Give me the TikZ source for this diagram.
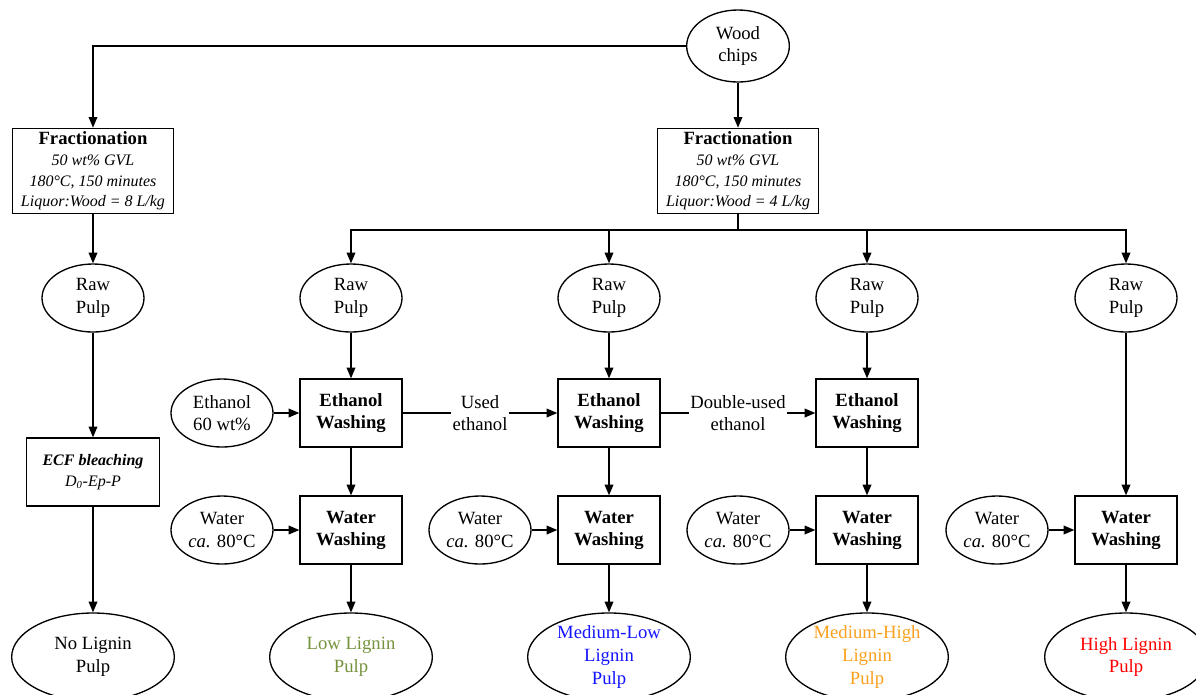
\documentclass[tikz,border=0pt]{standalone}
\usepackage{fontspec}
\setmainfont{Liberation Serif}
\usetikzlibrary{arrows.meta,positioning,shapes.geometric}

\definecolor{lowlig}{RGB}{118,146,60}
\definecolor{medlow}{RGB}{20,20,255}
\definecolor{medhigh}{RGB}{250,160,30}
\definecolor{highlig}{RGB}{255,0,0}

\tikzset{
  every node/.style={font=\fontsize{14}{17}\selectfont},
  pulp/.style={draw, ellipse, align=center, inner sep=0pt, minimum width=76.5pt, minimum height=51pt},
  bigpulp/.style={pulp, minimum width=122pt, minimum height=66pt},
  wash/.style={draw, rectangle, align=center, inner sep=0pt, minimum width=76.5pt, minimum height=51pt,
    font=\fontsize{14}{16.5}\selectfont\bfseries},
  fracbox/.style={draw, rectangle, align=center, inner sep=0pt, minimum width=121pt, minimum height=64pt,
    font=\fontsize{12}{15.5}\selectfont\itshape},
  flowlabel/.style={fill=white, align=center, inner sep=1pt}
}

\begin{document}
\begin{tikzpicture}[>={Triangle[length=8pt,width=6.5pt]}, line width=1pt, x=0.75pt, y=-0.75pt]
  %================= Parameters (pixel grid) =================
  \def\yraw{298}    % raw pulp row
  \def\yeth{413}    % ethanol washing row
  \def\ywat{530}    % water washing row
  \def\yfin{657}    % product row
  \def\ybus{230}    % splitter line
  \path[use as bounding box] (0,0) rectangle (1196,694);
  \clip (0,0) rectangle (1196,694);

  %================= Feed and fractionation =================
  \node[pulp, minimum width=77pt, minimum height=54pt] (wood) at (738,46) {Wood\\chips};
  \node[fracbox] (frac1) at (93,171)
    {{\fontsize{14}{15}\selectfont\bfseries\upshape Fractionation}\\50 wt\% GVL\\180°C, 150 minutes\\Liquor:Wood = 8 L/kg};
  \node[fracbox] (frac2) at (738,171)
    {{\fontsize{14}{15}\selectfont\bfseries\upshape Fractionation}\\50 wt\% GVL\\180°C, 150 minutes\\Liquor:Wood = 4 L/kg};

  %================= Left branch: bleaching =================
  \node[pulp] (raw0) at (93,\yraw) {Raw\\Pulp};
  \node[draw, align=center, inner sep=0pt, minimum width=100pt, minimum height=51pt,
        font=\fontsize{12}{16}\selectfont\itshape] (ecf) at (93,472)
    {\textbf{ECF bleaching}\\D\textsubscript{0}-Ep-P};
  \node[bigpulp] (nolig) at (93,\yfin) {No Lignin\\Pulp};

  %================= Right branch: washing columns =================
  \foreach \i/\x in {1/351,2/609,3/867,4/1126}{
    \node[pulp] (raw\i) at (\x,\yraw) {Raw\\Pulp};
    \node[wash] (wat\i) at (\x,\ywat) {Water\\Washing};
    \node[pulp] (win\i) at (\x-129,\ywat) {Water\\\textit{ca.} 80°C};
  }
  \foreach \i/\x in {1/351,2/609,3/867}{
    \node[wash] (eth\i) at (\x,\yeth) {Ethanol\\Washing};
  }
  \node[pulp] (ethin) at (222,\yeth) {Ethanol\\60 wt\%};

  % products
  \node[bigpulp, text=lowlig]  (fin1) at (351,\yfin) {Low Lignin\\Pulp};
  \node[bigpulp, text=medlow]  (fin2) at (609,\yfin) {Medium-Low\\Lignin\\Pulp};
  \node[bigpulp, text=medhigh] (fin3) at (867,\yfin) {Medium-High\\Lignin\\Pulp};
  \node[bigpulp, text=highlig] (fin4) at (1126,\yfin) {High Lignin\\Pulp};

  %================= Connectors =================
  \draw[->] (wood) -| (frac1);
  \draw[->] (wood) -- (frac2);
  \draw[->] (frac1) -- (raw0);
  \draw[->] (raw0) -- (ecf);
  \draw[->] (ecf) -- (nolig);

  % splitter under the second fractionation
  \coordinate (bus) at (738,\ybus);
  \draw (frac2) -- (bus);
  \draw[line cap=rect] (raw1 |- bus) -- (raw4 |- bus);
  \foreach \i in {1,...,4}{
    \draw[->] (raw\i |- bus) -- (raw\i);
    \draw[->] (win\i) -- (wat\i);
    \draw[->] (wat\i) -- (fin\i);
  }
  \foreach \i in {1,2,3}{
    \draw[->] (raw\i) -- (eth\i);
    \draw[->] (eth\i) -- (wat\i);
  }
  \draw[->] (raw4) -- (wat4);

  % ethanol reuse
  \draw[->] (ethin) -- (eth1);
  \draw[->] (eth1) -- node[flowlabel] {Used\\ethanol} (eth2);
  \draw[->] (eth2) -- node[flowlabel] {Double-used\\ethanol} (eth3);
\end{tikzpicture}
\end{document}
